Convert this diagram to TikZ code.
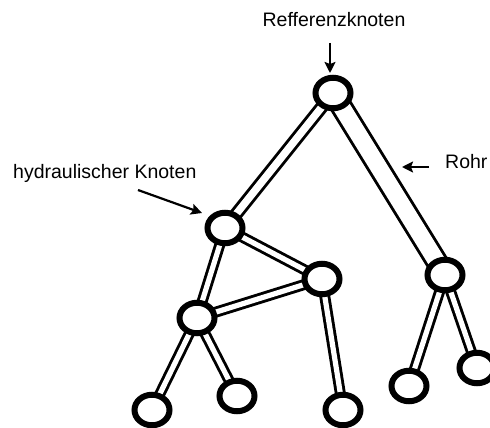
\documentclass[tikz,border=0pt]{standalone}
\usepackage{fontspec}
\setmainfont{Liberation Sans}
\usetikzlibrary{shapes.geometric,backgrounds,arrows.meta}
\tikzset{
  knot/.style={ellipse, draw=black, fill=white, line width=6pt, minimum width=35pt, minimum height=30.5pt, inner sep=0pt},
  pipe/.style={draw=black, line width=2.9pt, double=white, double distance=#1},
  pipe/.default=5.2pt,
  lbl/.style={font=\fontsize{19.5}{23}\selectfont, inner sep=0pt},
  pointer/.style={line width=2.2pt, -{Stealth[length=11pt,width=11pt,inset=2pt]}}
}
\begin{document}
\begin{tikzpicture}[x=1pt,y=-1pt]
\useasboundingbox (0,0) rectangle (490,428);
% nodes
\node[knot] (R) at (333,93) {};
\node[knot] (H) at (225,228) {};
\node[knot] (M) at (322,279) {};
\node[knot] (L) at (197,318) {};
\node[knot] (Rt) at (445,275) {};
\node[knot] (B1) at (152,410) {};
\node[knot] (B2) at (237,396) {};
\node[knot] (B3) at (343,410) {};
\node[knot] (B4) at (409,386) {};
\node[knot] (B5) at (477,368) {};
% pipes
\begin{scope}[on background layer]
\draw[pipe=7.5pt] (R.center) -- (H.center);
\draw[pipe=17pt] (R.center) -- (Rt.center);
\draw[pipe] (H.center) -- (L.center);
\draw[pipe] (H.center) -- (M.center);
\draw[pipe] (L.center) -- (M.center);
\draw[pipe] (L.center) -- (B1.center);
\draw[pipe] (L.center) -- (B2.center);
\draw[pipe] (M.center) -- (B3.center);
\draw[pipe] (Rt.center) -- (B4.center);
\draw[pipe] (Rt.center) -- (B5.center);
\end{scope}
% labels
\node[lbl, anchor=base] (tRef) at (334,27) {Refferenzknoten};
\node[lbl, anchor=base west] (tHyd) at (13,178) {hydraulischer Knoten};
\node[lbl, anchor=base west] (tRohr) at (445,168) {Rohr};
% pointers
\coordinate (a1s) at (330,43);
\coordinate (a1e) at (330,73);
\coordinate (a2s) at (138,190);
\coordinate (a2e) at (202,213);
\coordinate (a3s) at (429,167);
\coordinate (a3e) at (402,167);
\draw[pointer] (a1s) -- (a1e);
\draw[pointer] (a2s) -- (a2e);
\draw[pointer] (a3s) -- (a3e);
\end{tikzpicture}
\end{document}
